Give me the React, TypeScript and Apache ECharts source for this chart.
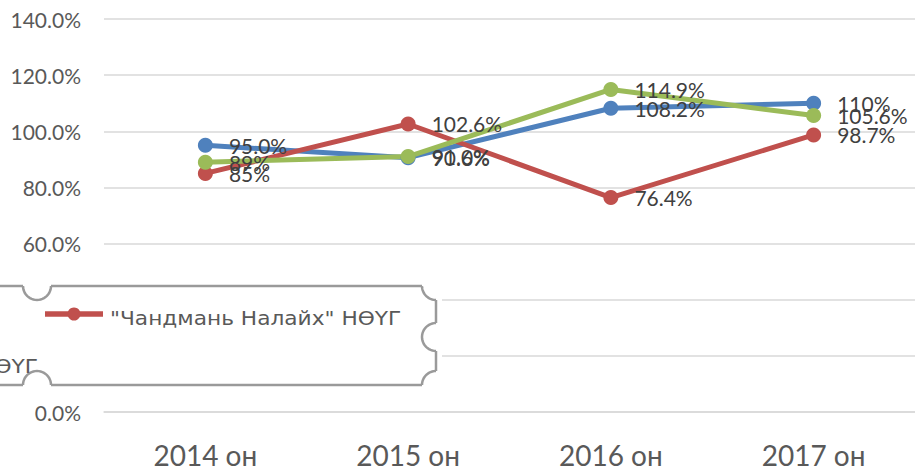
import React, { useEffect, useRef } from "react";
import * as echarts from "echarts";

const categories = ["2014 он", "2015 он", "2016 он", "2017 он"];
const blueValues = [95.0, 90.6, 108.2, 110];
const blueLabels = ["95.0%", "90.6%", "108.2%", "110%"];
const redValues = [85, 102.6, 76.4, 98.7];
const redLabels = ["85%", "102.6%", "76.4%", "98.7%"];
const greenValues = [89, 91.0, 114.9, 105.6];
const greenLabels = ["89%", "91.0%", "114.9%", "105.6%"];
const redName = '"Чандмань Налайх" НӨҮГ';
const cutName = "НӨҮГ";

const BLUE = "#4F81BD";
const RED = "#C0504D";
const GREEN = "#9BBB59";
const FONT = "Lato";

function makeSeries(name: string, values: number[], labels: string[], color: string) {
  return {
    name,
    type: "line",
    data: values,
    symbol: "circle",
    symbolSize: 15,
    itemStyle: { color },
    lineStyle: { color, width: 5 },
    label: {
      show: true,
      position: "right",
      distance: 16,
      fontFamily: FONT,
      fontSize: 21,
      color: "#404040",
      formatter: (p: any) => labels[p.dataIndex],
    },
  };
}

export default function App() {
  const ref = useRef<HTMLDivElement>(null);
  useEffect(() => {
    if (!ref.current) return;
    const chart = echarts.init(ref.current, undefined, { renderer: "svg" });
    const gray = "#9A9A9A";
    const bw = 2.5;
    const r = 14;
    const line = (x1: number, y1: number, x2: number, y2: number) => ({
      type: "line",
      z: 101,
      shape: { x1, y1, x2, y2 },
      style: { stroke: gray, lineWidth: bw },
    });
    const arc = (cx: number, cy: number, a0: number, a1: number) => {
      const pts: number[][] = [];
      const n = 24;
      for (let i = 0; i <= n; i++) {
        const a = a0 + ((a1 - a0) * i) / n;
        pts.push([cx + r * Math.cos(a), cy + r * Math.sin(a)]);
      }
      return {
        type: "polyline",
        z: 101,
        shape: { points: pts },
        style: { stroke: gray, lineWidth: bw, fill: "none" },
      };
    };
    const PI = Math.PI;
    const option: any = {
      animation: false,
      backgroundColor: "#fff",
      grid: { left: 104, right: -9, top: 19, bottom: 54 },
      xAxis: {
        type: "category",
        data: categories,
        boundaryGap: true,
        axisLine: { lineStyle: { color: "#D9D9D9", width: 1.5 } },
        axisTick: { show: false },
        axisLabel: { fontFamily: FONT, fontSize: 28, lineHeight: 24, color: "#595959", margin: 31 },
      },
      yAxis: {
        type: "value",
        min: 0,
        max: 140,
        interval: 20,
        axisLine: { show: false },
        axisTick: { show: false },
        splitLine: { lineStyle: { color: "#D9D9D9", width: 1.5 } },
        axisLabel: {
          fontFamily: FONT,
          fontSize: 21,
          color: "#595959",
          margin: 23,
          formatter: (v: number) => v.toFixed(1) + "%",
        },
      },
      series: [
        makeSeries("Series 1", blueValues, blueLabels, BLUE),
        makeSeries(redName, redValues, redLabels, RED),
        makeSeries("Series 3", greenValues, greenLabels, GREEN),
      ],
      graphic: {
        elements: [
          { type: "rect", z: 100, shape: { x: 0, y: 271, width: 442, height: 124 }, style: { fill: "#fff" } },
          line(-5, 286, 23, 286),
          line(51, 286, 422, 286),
          line(436, 300, 436, 323),
          line(436, 351, 436, 371),
          line(422, 385, 51, 385),
          line(23, 385, -5, 385),
          arc(37, 286, 0, PI),
          arc(436, 286, PI / 2, PI),
          arc(436, 337, PI / 2, (3 * PI) / 2),
          arc(436, 385, PI, (3 * PI) / 2),
          arc(37, 385, PI, 2 * PI),
          { type: "line", z: 102, shape: { x1: 45, y1: 314, x2: 103, y2: 314 }, style: { stroke: RED, lineWidth: 5.5 } },
          { type: "circle", z: 103, shape: { cx: 74, cy: 314, r: 6.5 }, style: { fill: RED } },
          {
            type: "text",
            z: 102,
            x: 110,
            y: 318,
            scaleX: 1.085,
            style: {
              text: redName,
              x: 0,
              y: 0,
              fontFamily: "DejaVu Sans",
              fontSize: 20,
              fill: "#595959",
              align: "left",
              verticalAlign: "middle",
            },
          },
          {
            type: "text",
            z: 102,
            x: 38,
            y: 366,
            scaleX: 1.085,
            style: {
              text: cutName,
              x: 0,
              y: 0,
              fontFamily: "DejaVu Sans",
              fontSize: 20,
              fill: "#595959",
              align: "right",
              verticalAlign: "middle",
            },
          },
        ],
      },
    };
    chart.setOption(option);
    return () => chart.dispose();
  }, []);
  return (
    <div
      ref={ref}
      style={{ position: "fixed", left: 0, top: 0, width: 915, height: 469 }}
    />
  );
}
